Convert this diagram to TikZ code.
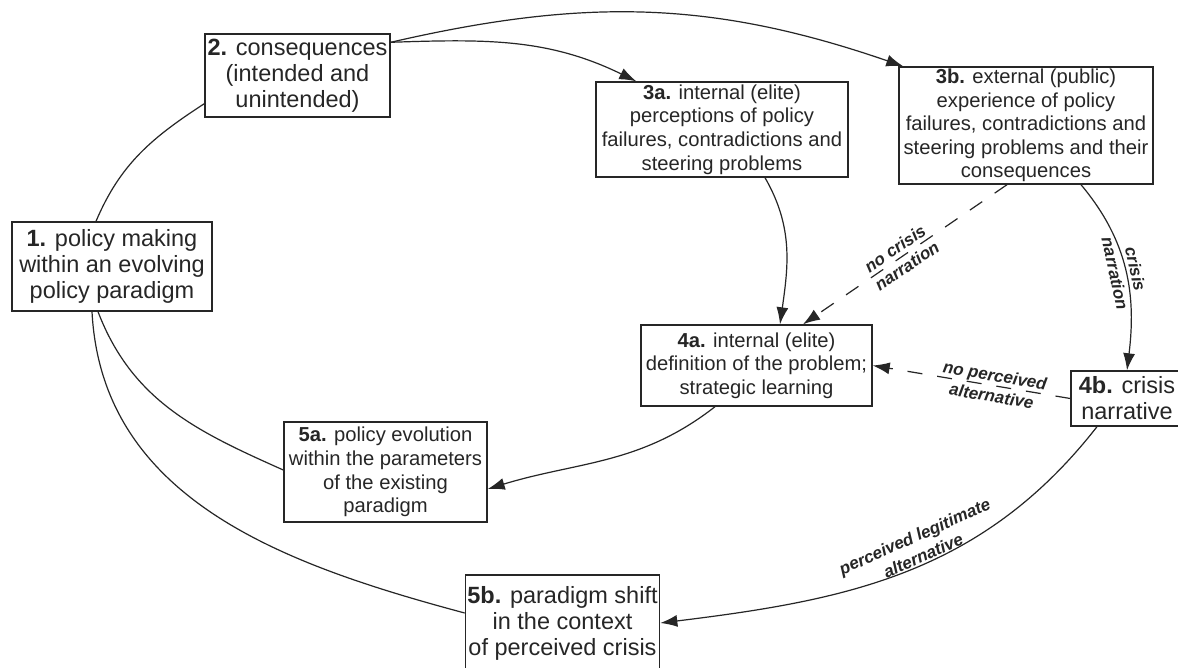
\documentclass[tikz,border=0pt]{standalone}
\usepackage{fontspec}
\setmainfont{Liberation Sans}
\usetikzlibrary{arrows.meta}
\definecolor{ink}{HTML}{262626}

\begin{document}
\begin{tikzpicture}[x=1pt,y=1pt,
  box/.style={draw=ink, line width=1.4pt, align=center, text=ink,
              inner xsep=2pt, inner ysep=0pt},
  bigbox/.style={box, font=\fontsize{23.5}{26}\selectfont},
  smallbox/.style={box, font=\fontsize{20.2}{23.6}\selectfont},
  link/.style={draw=ink, line width=1.2pt},
  arr/.style={link, -{Latex[length=17pt,width=12pt]}},
  dashlink/.style={arr, dash pattern=on 15pt off 15pt},
  lbl/.style={font=\fontsize{17}{21}\selectfont\bfseries\itshape, text=ink,
              align=center, sloped, inner sep=1pt},
]
% page frame
\useasboundingbox (0,0) rectangle (1178,-668);
\fill[white] (0,0) rectangle (1178,-668);
\clip (0,0) rectangle (1178,-668);

% stages
\node[bigbox, minimum width=200pt, minimum height=89pt] (b1) at (112,-266.5)
  {\textbf{1.} policy making\\within an evolving\\policy paradigm};
\node[bigbox, minimum width=185pt, minimum height=83pt] (b2) at (297.5,-75.5)
  {\textbf{2.} consequences\\(intended and\\unintended)};
\node[smallbox, minimum width=252pt, minimum height=95pt] (b3a) at (722,-129.5)
  {\textbf{3a.} internal (elite)\\perceptions of policy\\failures, contradictions and\\steering problems};
\node[smallbox, minimum width=254pt, minimum height=117pt] (b3b) at (1026,-125.5)
  {\textbf{3b.} external (public)\\experience of policy\\failures, contradictions and\\steering problems and their\\consequences};
\node[smallbox, minimum width=231pt, minimum height=81pt] (b4a) at (756.5,-365.5)
  {\textbf{4a.} internal (elite)\\definition of the problem;\\strategic learning};
\node[bigbox, minimum width=112pt, minimum height=55pt] (b4b) at (1127,-398.5)
  {\textbf{4b.} crisis\\narrative};
\node[smallbox, minimum width=203pt, minimum height=100pt] (b5a) at (385.5,-472)
  {\textbf{5a.} policy evolution\\within the parameters\\of the existing\\paradigm};
\node[bigbox, minimum width=193pt, minimum height=96pt] (b5b) at (562.5,-623)
  {\textbf{5b.} paradigm shift\\in the context\\of perceived crisis};

% cycle connectors
\draw[link] ([xshift=-16pt]b1.north) to[out=67,in=213] ([yshift=14pt]b2.south west);
\draw[arr] ([yshift=-9pt]b2.north east) to[out=13,in=161] ([xshift=5pt]b3b.north west);
\draw[arr] ([yshift=-9pt]b2.north east) to[out=2,in=154] ([xshift=41pt]b3a.north west);
\draw[arr] ([xshift=43pt]b3a.south) to[out=-60,in=82] ([xshift=23.5pt]b4a.north);
\draw[dashlink] ([xshift=-19pt]b3b.south) -- node[lbl, pos=0.52] {no crisis\\narration}
  ([xshift=46.5pt]b4a.north);
\draw[arr] ([xshift=55pt]b3b.south) to[out=-50,in=83]
  node[lbl, pos=0.5] {crisis\\narration} (b4b.north);
\draw[dashlink] (b4b.west) -- node[lbl, pos=0.39] {no perceived\\alternative} (b4a.east);
\draw[arr] ([xshift=-41.5pt]b4a.south) to[out=218,in=17] ([yshift=-17pt]b5a.east);
\draw[arr] ([xshift=-30pt]b4b.south) to[out=232,in=7]
  node[lbl, pos=0.45, anchor=south] {perceived legitimate\\alternative} (b5b.east);
\draw[link] ([xshift=-14pt]b1.south) to[out=-69,in=156] ([yshift=2pt]b5a.west);
\draw[link] ([xshift=-20pt]b1.south) to[out=-87,in=165] ([yshift=10pt]b5b.west);
\end{tikzpicture}
\end{document}
